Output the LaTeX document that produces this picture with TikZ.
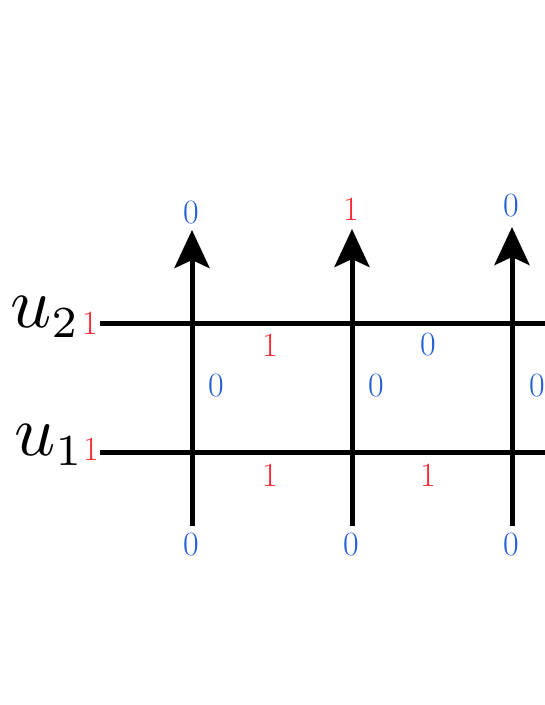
\RequirePackage{fix-cm}
\documentclass[tikz,border=0pt]{standalone}
\usepackage{graphicx}
\usetikzlibrary{arrows.meta}
\definecolor{lblue}{RGB}{35,95,215}
\definecolor{lred}{RGB}{250,40,50}
\tikzset{
  wire/.style={line width=5pt, black},
  upwire/.style={wire, -{Stealth[length=38pt,width=35pt,inset=8pt]}},
  zero/.style={text=lblue, font=\fontsize{34}{40}\selectfont, inner sep=0pt},
  one/.style={text=lred, font=\fontsize{34}{40}\selectfont, inner sep=0pt},
  ulab/.style={scale=7.2, inner sep=0pt, anchor=base east}
}
\begin{document}
\begin{tikzpicture}[x=1pt,y=-1pt]
\useasboundingbox (0,0) rectangle (545,705);
\clip (0,0) rectangle (545,705);
\fill[white] (0,0) rectangle (545,705);
% coordinates
\coordinate (l2) at (100,323);
\coordinate (r2) at (560,323);
\coordinate (l1) at (100,452);
\coordinate (r1) at (560,452);
\coordinate (b1) at (192,526);
\coordinate (t1) at (192,230);
\coordinate (b2) at (352,526);
\coordinate (t2) at (352,229);
\coordinate (b3) at (512,526);
\coordinate (t3) at (512,227);
% wires
\draw[wire] (l2) -- (r2);
\draw[wire] (l1) -- (r1);
\draw[upwire] (b1) -- (t1);
\draw[upwire] (b2) -- (t2);
\draw[upwire] (b3) -- (t3);
% row labels
\node[ulab] (u2) at (82,327) {$u_{\scalebox{0.88}{$\scriptstyle 2$}}$};
\node[ulab] (u1) at (86,455) {$u_{\scalebox{0.88}{$\scriptstyle 1$}}$};
\node[one] (s2) at (90,323) {1};
\node[one] (s1) at (91,449) {1};
% top labels
\node[zero] (o1) at (191,213) {0};
\node[one]  (o2) at (351,209) {1};
\node[zero] (o3) at (511,206) {0};
% bottom labels
\node[zero] (i1) at (191,545) {0};
\node[zero] (i2) at (351,545) {0};
\node[zero] (i3) at (511,545) {0};
% between-wire labels
\node[one]  (h21) at (270,345) {1};
\node[zero] (h22) at (428,345) {0};
\node[one]  (h11) at (270,475) {1};
\node[one]  (h12) at (428,475) {1};
\node[zero] (v1) at (216,386) {0};
\node[zero] (v2) at (376,386) {0};
\node[zero] (v3) at (537,386) {0};
\end{tikzpicture}
\end{document}
